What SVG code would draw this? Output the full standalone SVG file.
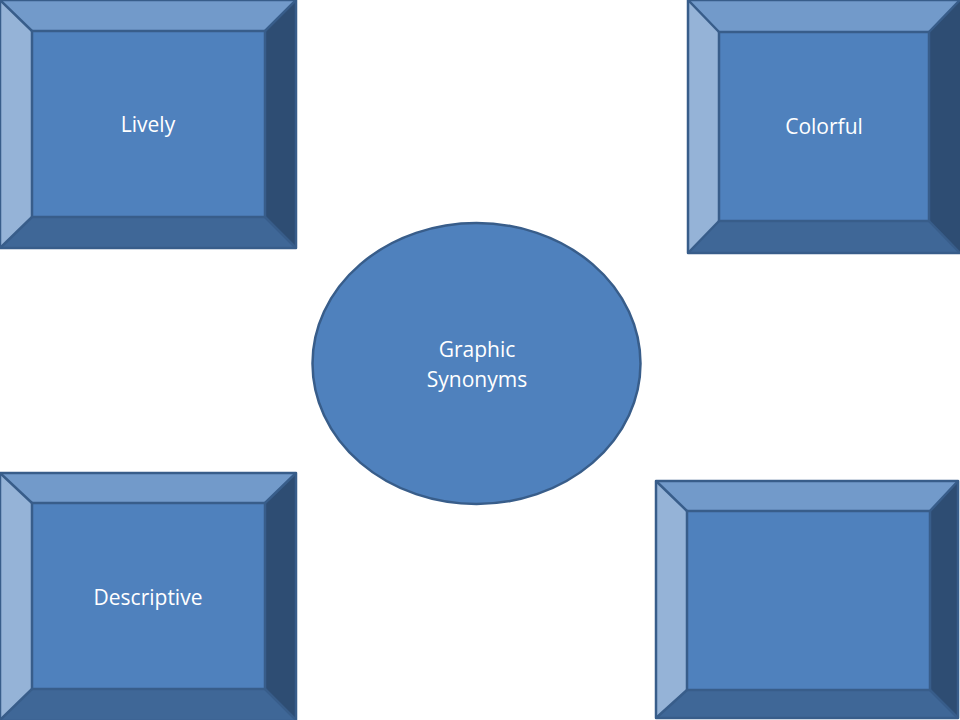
<svg xmlns="http://www.w3.org/2000/svg" width="960" height="720" viewBox="0 0 960 720">
<style>
.face{fill:#4F81BD}
.top{fill:#729ACA}
.left{fill:#95B3D7}
.bot{fill:#3F6797}
.right{fill:#2E4D73}
.edge{fill:none;stroke:#385D8A;stroke-width:2.5;stroke-linejoin:round}
.lbl{font-family:"Open Sans","Liberation Sans",sans-serif;font-size:21px;fill:#FFFFFF;text-anchor:middle}
</style>
<rect width="960" height="720" fill="#FFFFFF"/>
<g id="connectors"></g>
<g id="lively">
<polygon class="top" points="0,0 296,0 265,31 32,31"/>
<polygon class="left" points="0,0 32,31 32,217 0,248"/>
<polygon class="bot" points="0,248 32,217 265,217 296,248"/>
<polygon class="right" points="296,0 296,248 265,217 265,31"/>
<rect class="face" x="32" y="31" width="233" height="186"/>
<rect class="edge" x="0" y="0" width="296" height="248"/>
<rect class="edge" x="32" y="31" width="233" height="186"/>
<path class="edge" d="M0,0L32,31M296,0L265,31M0,248L32,217M296,248L265,217"/>
<text class="lbl" x="148" y="132">Lively</text>
</g>
<g id="colorful">
<polygon class="top" points="688,0 960,0 929,32 719,32"/>
<polygon class="left" points="688,0 719,32 719,221 688,253"/>
<polygon class="bot" points="688,253 719,221 929,221 960,253"/>
<polygon class="right" points="960,0 960,253 929,221 929,32"/>
<rect class="face" x="719" y="32" width="210" height="189"/>
<rect class="edge" x="688" y="0" width="274" height="253"/>
<rect class="edge" x="719" y="32" width="210" height="189"/>
<path class="edge" d="M688,0L719,32M960,0L929,32M688,253L719,221M960,253L929,221"/>
<text class="lbl" x="824" y="134">Colorful</text>
</g>
<g id="descriptive">
<polygon class="top" points="0,473 296,473 265,503 32,503"/>
<polygon class="left" points="0,473 32,503 32,689 0,720"/>
<polygon class="bot" points="0,720 32,689 265,689 296,720"/>
<polygon class="right" points="296,473 296,720 265,689 265,503"/>
<rect class="face" x="32" y="503" width="233" height="186"/>
<rect class="edge" x="0" y="473" width="296" height="248"/>
<rect class="edge" x="32" y="503" width="233" height="186"/>
<path class="edge" d="M0,473L32,503M296,473L265,503M0,720L32,689M296,720L265,689"/>
<text class="lbl" x="148" y="605">Descriptive</text>
</g>
<g id="empty">
<polygon class="top" points="656,481 958,481 930,511 687,511"/>
<polygon class="left" points="656,481 687,511 687,690 656,718"/>
<polygon class="bot" points="656,718 687,690 930,690 958,718"/>
<polygon class="right" points="958,481 958,718 930,690 930,511"/>
<rect class="face" x="687" y="511" width="243" height="179"/>
<rect class="edge" x="656" y="481" width="302" height="237"/>
<rect class="edge" x="687" y="511" width="243" height="179"/>
<path class="edge" d="M656,481L687,511M958,481L930,511M656,718L687,690M958,718L930,690"/>
</g>
<g id="center">
<ellipse cx="476.5" cy="363.5" rx="164" ry="140.5" fill="#4F81BD" stroke="#385D8A" stroke-width="2.5"/>
<text class="lbl" x="477" y="357">Graphic</text>
<text class="lbl" x="477" y="387">Synonyms</text>
</g>
</svg>
